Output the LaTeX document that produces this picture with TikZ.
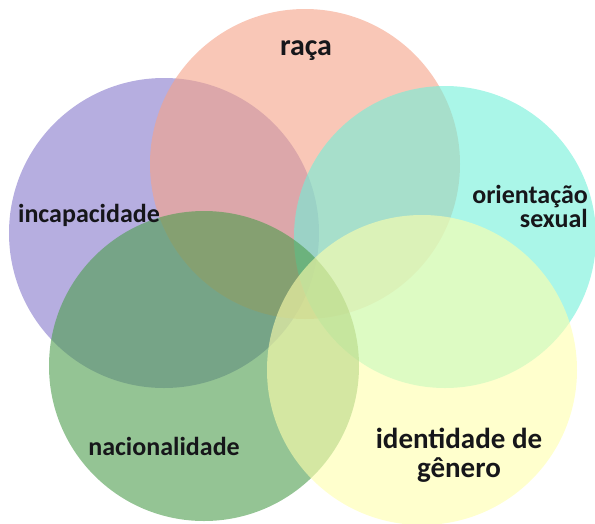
\documentclass[tikz,border=0pt]{standalone}
\usepackage{fontspec}
\setmainfont{Carlito}
\definecolor{cpurple}{RGB}{133,120,203}
\definecolor{cpink}{RGB}{245,162,135}
\definecolor{ccyan}{RGB}{113,240,217}
\definecolor{cgreen}{RGB}{77,157,77}
\definecolor{cyellow}{RGB}{255,255,172}
\definecolor{ctext}{RGB}{22,22,26}
\begin{document}
\begin{tikzpicture}[x=1pt,y=-1pt,
  blob/.style={circle,fill opacity=0.6,inner sep=0pt,minimum size=#1},
  lab/.style={text=ctext,inner sep=0pt,anchor=base},
  small/.style={font=\bfseries\fontsize{26}{26}\selectfont},
  big/.style={font=\bfseries\fontsize{30}{30}\selectfont}]
\useasboundingbox (0,0) rectangle (595,523);
\node[blob=310pt,fill=cpurple] (dis) at (164,233) {};
\node[blob=310pt,fill=cpink] (race) at (305,164) {};
\node[blob=302pt,fill=ccyan] (sex) at (445,237) {};
\node[blob=310pt,fill=cgreen] (nat) at (204,366) {};
\node[blob=310pt,fill=cyellow] (gen) at (422,370) {};
\node[lab,big] (trace) at (306,55) {raça};
\node[lab,small] (tdis) at (89,222) {incapacidade};
\node[lab,small,anchor=base east] (tsex1) at (588,203) {orientação};
\node[lab,small,anchor=base east] (tsex2) at (588,227) {sexual};
\node[lab,small] (tnat) at (164,455) {nacionalidade};
\node[lab,font=\bfseries\fontsize{29}{29}\selectfont,anchor=center,align=center] (tgen) at (459,455) {identidade de\\gênero};
\end{tikzpicture}
\end{document}
